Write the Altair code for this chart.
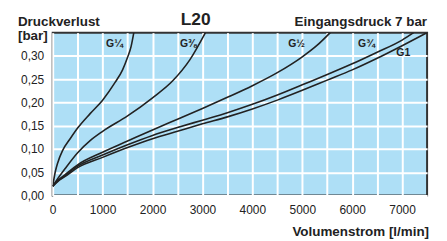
import altair as alt
import pandas as pd

# ---- data ----
g14_x = [0, 50, 100, 200, 350, 500, 750, 1000, 1250, 1400, 1500, 1570, 1625]
g14_y = [0.02, 0.05, 0.07, 0.097, 0.122, 0.145, 0.176, 0.205, 0.243, 0.270, 0.297, 0.32, 0.35]

g38_x = [0, 100, 250, 500, 750, 1000, 1500, 2000, 2400, 2750, 3060]
g38_y = [0.02, 0.036, 0.058, 0.092, 0.118, 0.138, 0.171, 0.210, 0.246, 0.292, 0.35]

g12_x = [0, 100, 250, 500, 1000, 1500, 2000, 2500, 3000, 3500, 4000, 4500, 5000, 5300, 5560]
g12_y = [0.02, 0.032, 0.045, 0.066, 0.093, 0.117, 0.141, 0.164, 0.187, 0.211, 0.236, 0.264, 0.298, 0.323, 0.35]

g34_x = [0, 100, 250, 500, 1000, 1500, 2000, 2500, 3000, 3500, 4000, 4500, 5000, 5500, 6000, 6500, 7000, 7230]
g34_y = [0.02, 0.031, 0.043, 0.063, 0.087, 0.109, 0.129, 0.146, 0.162, 0.178, 0.196, 0.216, 0.238, 0.260, 0.283, 0.308, 0.334, 0.35]

g1_x = [0, 100, 250, 500, 1000, 1500, 2000, 2500, 3000, 3500, 4000, 4500, 5000, 5500, 6000, 6500, 7000, 7500]
g1_y = [0.02, 0.030, 0.041, 0.060, 0.082, 0.103, 0.122, 0.138, 0.154, 0.169, 0.186, 0.205, 0.226, 0.248, 0.270, 0.295, 0.322, 0.35]

series_names = ["G\u00bc", "G\u215c", "G\u00bd", "G\u00be", "G1"]
series_x = [g14_x, g38_x, g12_x, g34_x, g1_x]
series_y = [g14_y, g38_y, g12_y, g34_y, g1_y]

label_names = series_names
label_x = [1237, 2718, 4885, 6286, 7022]
label_y = [0.3257, 0.3257, 0.3257, 0.3257, 0.306]

x_ticks = list(range(0, 7001, 500))
y_ticks = [0.0, 0.05, 0.10, 0.15, 0.20, 0.25, 0.30]

rows = []
for n, xs_, ys_ in zip(series_names, series_x, series_y):
    for i, (a, b) in enumerate(zip(xs_, ys_)):
        rows.append({"series": n, "q": a, "dp": b, "order": i})
df = pd.DataFrame(rows)
lab = pd.DataFrame({"name": label_names, "q": label_x, "dp": label_y})

FONT = "Liberation Sans"
W, H = 377, 164

xs = alt.Scale(domain=[0, 7500], nice=False, zero=False)
ys = alt.Scale(domain=[0, 0.35], nice=False, zero=False)

def x_axis():
    return alt.Axis(values=x_ticks, ticks=False, domain=False, gridColor="white", gridWidth=2, gridOpacity=1,
                    labelExpr="datum.value % 1000 == 0 ? datum.label : ''",
                    format="d", labelFont=FONT, labelFontSize=12, labelColor="#222222",
                    labelPadding=9, labelFlush=False, labelOverlap=False)

def y_axis():
    return alt.Axis(values=y_ticks, ticks=False, domain=False, gridColor="white", gridWidth=2, gridOpacity=1,
                    labelExpr="replace(format(datum.value, '.2f'), '.', ',')",
                    labelFont=FONT, labelFontSize=12, labelColor="#222222", labelPadding=9,
                    labelOverlap=False, labelFlush=False)

lines = alt.Chart(df).mark_line(color="#222222", strokeWidth=1.6, interpolate="monotone", clip=True).encode(
    x=alt.X("q:Q", scale=xs, title=None, axis=x_axis()),
    y=alt.Y("dp:Q", scale=ys, title=None, axis=y_axis()),
    detail="series:N",
    order="order:Q",
)

labels = alt.Chart(lab).mark_text(font=FONT, fontSize=10.5, fontWeight="bold", color="#222222").encode(
    x=alt.X("q:Q", scale=xs, title=None, axis=x_axis()),
    y=alt.Y("dp:Q", scale=ys, title=None, axis=y_axis()),
    text="name:N",
)

def txt(s, x, y, size, align, base="middle"):
    return alt.Chart(pd.DataFrame({"t": [s]})).mark_text(
        font=FONT, fontSize=size, fontWeight="bold", color="#222222", align=align, baseline=base
    ).encode(x=alt.value(x), y=alt.value(y), text="t:N")

titles = (
    txt("Druckverlust", -35, -11, 13.5, "left")
    + txt("[bar]", -35, 3, 13.5, "left")
    + txt("L20", 144, -13, 17.5, "center")
    + txt("Eingangsdruck 7 bar", 377, -11, 13.5, "right")
    + txt("Volumenstrom [l/min]", 379, 37 + H - 0.3, 13.5, "right")
)

chart = (lines + labels + titles).properties(
    width=W, height=H,
    autosize=alt.AutoSizeParams(type="none"),
    padding={"left": 45, "top": 24, "right": 12, "bottom": 50},
    background="white",
).configure_view(
    fill="#AEDFF6", stroke="#333333", strokeWidth=2
)

chart.save("out.html", embed_options={"renderer": "svg", "actions": False})
